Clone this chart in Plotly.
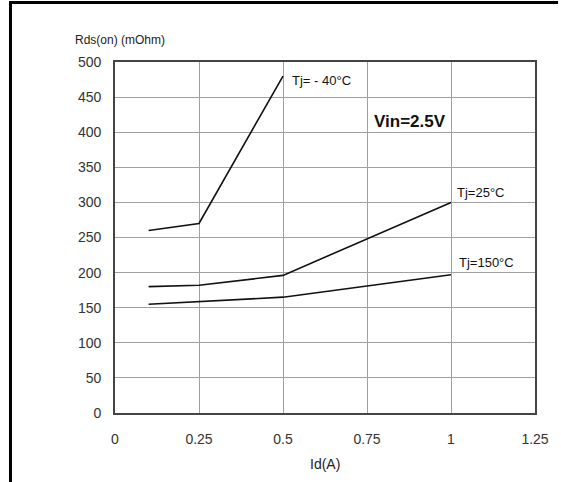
import plotly.graph_objects as go

x_pts = [0.1, 0.25, 0.5, 1.0]
tj_m40_x = [0.1, 0.25, 0.5]
tj_m40_y = [260, 270, 480]
tj_25_y = [180, 182, 196, 300]
tj_150_y = [155, 159, 165, 197]

x_ticks = [0, 0.25, 0.5, 0.75, 1, 1.25]
x_tick_labels = ["0", "0.25", "0.5", "0.75", "1", "1.25"]
y_ticks = list(range(0, 501, 50))

W, H = 561, 482
ml, mr, mt, mb = 114.5, 18.5, 62, 68.5
pw, ph = W - ml - mr, H - mt - mb

def px_x(p):
    return (p - ml) / pw

def px_y(p):
    return (H - mb - p) / ph

FAM = "Liberation Sans, Arial, sans-serif"

fig = go.Figure()
line = dict(color="#111111", width=1.6)
fig.add_trace(go.Scatter(x=tj_m40_x, y=tj_m40_y, mode="lines", line=line))
fig.add_trace(go.Scatter(x=x_pts, y=tj_25_y, mode="lines", line=line))
fig.add_trace(go.Scatter(x=x_pts, y=tj_150_y, mode="lines", line=line))

font_tick = dict(family=FAM, size=14, color="#333333")

fig.update_layout(
    width=W, height=H,
    margin=dict(l=ml, r=mr, t=mt, b=mb),
    paper_bgcolor="white", plot_bgcolor="white",
    showlegend=False,
    xaxis=dict(range=[0, 1.25], tickvals=x_ticks, ticktext=x_tick_labels,
               showgrid=True, gridcolor="#a0a0a0", gridwidth=1.2,
               showline=True, linecolor="#444444", linewidth=1.6, mirror=True,
               ticks="", tickfont=font_tick, ticklabelstandoff=12, zeroline=False),
    yaxis=dict(range=[0, 500], tickvals=y_ticks,
               showgrid=True, gridcolor="#a0a0a0", gridwidth=1.2,
               showline=True, linecolor="#444444", linewidth=1.6, mirror=True,
               ticks="", tickfont=font_tick, ticklabelstandoff=9, zeroline=False),
)

lab_font = dict(family=FAM, size=13, color="#111111")
fig.add_annotation(x=0.521, y=474, xref="x", yref="y", text="Tj= - 40°C", showarrow=False,
                   xanchor="left", yanchor="middle", font=lab_font)
fig.add_annotation(x=0.878, y=415, xref="x", yref="y", text="<b>Vin=2.5V</b>", showarrow=False,
                   xanchor="center", yanchor="middle",
                   font=dict(family=FAM, size=17, color="#111111"))
fig.add_annotation(x=1.089, y=314, xref="x", yref="y", text="Tj=25°C", showarrow=False,
                   xanchor="center", yanchor="middle", font=lab_font)
fig.add_annotation(x=1.105, y=214, xref="x", yref="y", text="Tj=150°C", showarrow=False,
                   xanchor="center", yanchor="middle", font=lab_font)

fig.add_annotation(x=px_x(72), y=px_y(40), xref="paper", yref="paper", text="Rds(on) (mOhm)",
                   showarrow=False, xanchor="left", yanchor="middle",
                   font=dict(family=FAM, size=12, color="#222222"))
fig.add_annotation(x=px_x(328), y=px_y(465), xref="paper", yref="paper", text="Id(A)",
                   showarrow=False, xanchor="center", yanchor="middle",
                   font=dict(family=FAM, size=14, color="#222222"))

frame = dict(color="black", width=3)
fig.add_shape(type="line", xref="paper", yref="paper", x0=px_x(8), x1=px_x(W + 5),
              y0=px_y(2.5), y1=px_y(2.5), line=frame)
fig.add_shape(type="line", xref="paper", yref="paper", x0=px_x(8), x1=px_x(8),
              y0=px_y(1), y1=px_y(H + 5), line=frame)

fig.write_html("out.html", config={"displayModeBar": False},
               post_script="document.body.style.margin='0';document.body.style.overflow='hidden';")
